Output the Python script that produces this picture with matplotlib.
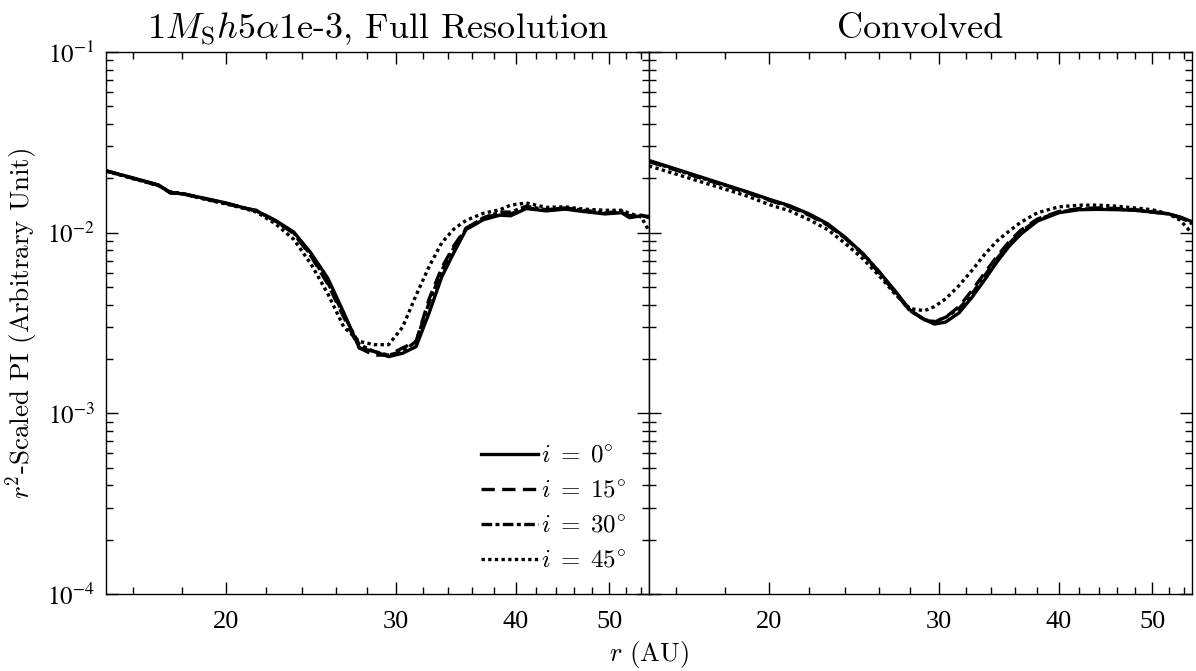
import numpy as np
import matplotlib
matplotlib.use("Agg")
import matplotlib.pyplot as plt
from matplotlib.ticker import FixedLocator, FixedFormatter, NullFormatter
from matplotlib.font_manager import FontProperties

# ------------------------------------------------------------
# data (r in AU, r^2-scaled PI)
# ------------------------------------------------------------
r_full = [15, 16, 17, 17.5, 18, 19, 20, 21, 21.5, 22.5, 23.5, 24.5, 25.5,
          26.5, 27.5, 28.5, 29.5, 30.5, 31.5, 32.5, 33.5, 34.5, 35.5, 37,
          38.5, 39.5, 41, 43, 45, 47, 49.5, 51.5, 52.5, 54, 55]
full_i0 = [0.0220, 0.0201, 0.0184, 0.0167, 0.0164, 0.0155, 0.0146, 0.0136,
           0.0132, 0.0117, 0.0101, 0.0077, 0.0056, 0.0036, 0.0023, 0.0022,
           0.00206, 0.00215, 0.00234, 0.0036, 0.0057, 0.0078, 0.0104, 0.0118,
           0.0125, 0.0124, 0.0136, 0.0132, 0.0135, 0.0131, 0.0127, 0.0129,
           0.0121, 0.0124, 0.0123]
full_i15 = [0.0220, 0.0200, 0.0183, 0.0166, 0.0165, 0.0154, 0.0145, 0.0136,
            0.0133, 0.0116, 0.0099, 0.0074, 0.0052, 0.0034, 0.0023, 0.0021,
            0.0021, 0.0023, 0.0025, 0.0043, 0.0064, 0.0085, 0.0106, 0.0120,
            0.0128, 0.0127, 0.0137, 0.0133, 0.0136, 0.0132, 0.0128, 0.0130,
            0.0123, 0.0124, 0.0122]
full_i30 = [0.0220, 0.0200, 0.0183, 0.0166, 0.0164, 0.0154, 0.0145, 0.0136,
            0.0132, 0.0116, 0.0100, 0.0075, 0.0053, 0.0035, 0.0024, 0.0022,
            0.0021, 0.0022, 0.0025, 0.0041, 0.0062, 0.0083, 0.0105, 0.0121,
            0.0130, 0.0130, 0.0140, 0.0134, 0.0137, 0.0133, 0.0129, 0.0131,
            0.0124, 0.0125, 0.0121]
full_i45 = [0.0219, 0.0199, 0.0182, 0.0168, 0.0165, 0.0153, 0.0144, 0.0135,
            0.0130, 0.0112, 0.0092, 0.0067, 0.0046, 0.0030, 0.0025, 0.0024,
            0.0024, 0.0030, 0.0045, 0.0065, 0.0088, 0.0105, 0.0117, 0.0128,
            0.0134, 0.0142, 0.0146, 0.0138, 0.0139, 0.0135, 0.0133, 0.0133,
            0.0128, 0.0122, 0.0102]

r_conv = [15, 16, 17, 18, 19, 20, 21, 22, 23, 24, 25, 26, 27, 28, 29, 29.7,
          30.5, 31.5, 32.5, 33.5, 34.5, 35.5, 36.5, 38, 40, 42, 44, 46, 48,
          50, 52, 53.5, 55]
conv_i0 = [0.0251, 0.0225, 0.0203, 0.0184, 0.0168, 0.0153, 0.0141, 0.0127,
           0.0112, 0.0094, 0.0077, 0.0061, 0.0048, 0.00374, 0.0033, 0.00312,
           0.0032, 0.0036, 0.0044, 0.0055, 0.0069, 0.0084, 0.0098, 0.0116,
           0.0129, 0.0134, 0.01346, 0.0134, 0.0133, 0.0130, 0.0127, 0.0122,
           0.0115]
conv_i15 = [0.0247, 0.0222, 0.0200, 0.0182, 0.0166, 0.0151, 0.0139, 0.0125,
            0.0110, 0.0093, 0.0076, 0.0060, 0.0047, 0.0037, 0.0033, 0.0032,
            0.0034, 0.0039, 0.0048, 0.0060, 0.0074, 0.0089, 0.0103, 0.0119,
            0.0131, 0.0136, 0.0137, 0.0136, 0.0134, 0.0131, 0.0127, 0.0121,
            0.0112]
conv_i30 = [0.0249, 0.0223, 0.0201, 0.0183, 0.0167, 0.0152, 0.0140, 0.0126,
            0.0111, 0.0093, 0.0077, 0.0061, 0.0047, 0.0037, 0.0033, 0.00322,
            0.0034, 0.0038, 0.0046, 0.0058, 0.0072, 0.0087, 0.0101, 0.0118,
            0.0130, 0.0135, 0.0136, 0.0135, 0.0133, 0.0130, 0.0127, 0.0121,
            0.0113]
conv_i45 = [0.0234, 0.0211, 0.0191, 0.0174, 0.0159, 0.0143, 0.0132, 0.0118,
            0.0104, 0.0087, 0.0072, 0.0058, 0.0046, 0.0038, 0.0037, 0.0039,
            0.0043, 0.0051, 0.0062, 0.0076, 0.0090, 0.0102, 0.0114, 0.0129,
            0.0139, 0.0142, 0.0142, 0.0140, 0.0137, 0.0134, 0.0127, 0.0117,
            0.0099]

labels = [r'$i\;=\;0^{\circ}$', r'$i\;=\;15^{\circ}$',
          r'$i\;=\;30^{\circ}$', r'$i\;=\;45^{\circ}$']
titles = [r'$1M_{\rm S}h5\alpha$1e-3, Full Resolution', 'Convolved']

x_major = [20, 30, 40, 50]
x_minor = [16, 18, 22, 24, 26, 28, 32, 34, 36, 38, 42, 44, 46, 48, 52, 54]
y_major = [1e-4, 1e-3, 1e-2, 1e-1]
y_labels = [r'$\mathrm{10^{-4}}$', r'$\mathrm{10^{-3}}$', r'$\mathrm{10^{-2}}$', r'$\mathrm{10^{-1}}$']

# ------------------------------------------------------------
# styling
# ------------------------------------------------------------
plt.rcParams['font.family'] = ['Liberation Serif', 'DejaVu Serif']
plt.rcParams['mathtext.fontset'] = 'stix'
styles = ['-', (0, (4, 2.2)), (0, (3.2, 1.0, 1.2, 1.0)), (0, (1, 1))]
lw = 2.4
cm_text = dict(family='cmr10', math_fontfamily='cm')

W, H = 1196, 671
fig = plt.figure(figsize=(W / 100, H / 100), dpi=100)
x0, x1, x2 = 106, 649, 1192
y_top, y_bot = 52, 594
ax1 = fig.add_axes([x0 / W, 1 - y_bot / H, (x1 - x0) / W, (y_bot - y_top) / H])
ax2 = fig.add_axes([x1 / W, 1 - y_bot / H, (x2 - x1) / W, (y_bot - y_top) / H])

panels = [
    (ax1, r_full, [full_i0, full_i15, full_i30, full_i45]),
    (ax2, r_conv, [conv_i0, conv_i15, conv_i30, conv_i45]),
]

for k, (ax, r, series) in enumerate(panels):
    for vals, ls, lab in zip(series, styles, labels):
        ax.plot(r, vals, color='black', lw=lw, linestyle=ls, label=lab)
    ax.set_xscale('log')
    ax.set_yscale('log')
    ax.set_xlim(15, 55)
    ax.set_ylim(1e-4, 1e-1)
    ax.xaxis.set_major_locator(FixedLocator(x_major))
    ax.xaxis.set_major_formatter(FixedFormatter([str(v) for v in x_major]))
    ax.xaxis.set_minor_locator(FixedLocator(x_minor))
    ax.xaxis.set_minor_formatter(NullFormatter())
    ax.yaxis.set_major_locator(FixedLocator(y_major))
    ax.yaxis.set_minor_locator(FixedLocator(
        [m * 10.0 ** e for e in (-4, -3, -2) for m in range(2, 10)]))
    ax.yaxis.set_minor_formatter(NullFormatter())
    if k == 0:
        ax.yaxis.set_major_formatter(FixedFormatter(y_labels))
    else:
        ax.yaxis.set_major_formatter(NullFormatter())
    ax.tick_params(which='both', direction='in', top=True, right=True,
                   width=1.0)
    ax.tick_params(axis='x', labelsize=19, pad=12)
    ax.tick_params(axis='y', labelsize=18, pad=8)
    ax.tick_params(which='major', length=8.5)
    ax.tick_params(which='minor', length=5)
    for sp in ax.spines.values():
        sp.set_linewidth(1.0)
    ax.set_title(titles[k], fontsize=26, pad=10, **cm_text)

ax1.set_ylabel(r'$r^2$-Scaled PI (Arbitrary Unit)', fontsize=19.5, labelpad=5, **cm_text)
fig.text(x1 / W, 1 - 655 / H, r'$r$ (AU)', ha='center', va='center',
         fontsize=19, **cm_text)

leg_font = FontProperties(family='cmr10', size=18, math_fontfamily='cm')
ax1.legend(loc='lower right', bbox_to_anchor=(0.985, 0.012), frameon=False,
           prop=leg_font, handlelength=2.3, handletextpad=0.1,
           labelspacing=0.5, borderaxespad=0.2)

fig.savefig('out.png', dpi=100)
